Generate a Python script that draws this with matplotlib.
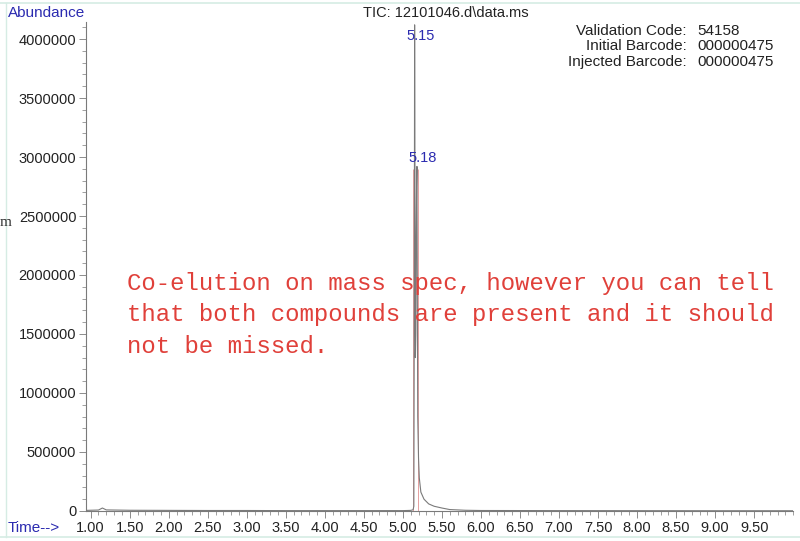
import matplotlib
matplotlib.use("Agg")
import matplotlib.pyplot as plt
from matplotlib.ticker import MultipleLocator, FormatStrFormatter
from matplotlib.lines import Line2D

# -----------------------------
# Chromatogram data (TIC)
# -----------------------------
time_min = [0.94, 1.10, 1.15, 1.20, 1.50, 2.00, 2.50, 3.00, 3.50, 4.00, 4.50,
            5.00, 5.10, 5.13, 5.14, 5.145, 5.15, 5.155, 5.16, 5.165,
            5.17, 5.175, 5.18, 5.185, 5.19, 5.20, 5.21, 5.23, 5.27, 5.33,
            5.40, 5.50, 5.60, 5.80, 6.00, 7.00, 8.00, 9.00, 10.00]
abundance = [5000, 8000, 25000, 9000, 6000, 5000, 4000, 4000, 3000, 3000, 3000,
             3000, 5000, 10000, 40000, 1500000, 4120000, 2600000, 1300000, 1500000,
             2300000, 2750000, 2920000, 1800000, 800000, 450000, 280000, 160000, 100000, 60000,
             40000, 25000, 12000, 6000, 4000, 3000, 2500, 2000, 2000]

# integration markers
marker_times = [5.135, 5.195]
marker_heights = [2900000, 2900000]

peak_times = [5.15, 5.18]
peak_label_y = [3970000, 2930000]
peak_labels = ["5.15", "5.18"]

info_keys = ["Validation Code:", "Initial Barcode:", "Injected Barcode:"]
info_vals = ["54158", "000000475", "000000475"]

note = ("Co-elution on mass spec, however you can tell\n"
        "that both compounds are present and it should\n"
        "not be missed.")

BLUE = "#2b2bb0"
GREY = "#7a7a7a"
DARK = "#222222"

plt.rcParams["font.family"] = ["Liberation Sans", "DejaVu Sans"]

fig = plt.figure(figsize=(8, 5.41), dpi=100)
ax = fig.add_axes([0.1075, 0.0555, 0.884, 0.904])

ax.vlines(marker_times, 0, marker_heights, color="#e6a0a0", linewidth=0.7, zorder=1)
ax.plot(time_min, abundance, color=GREY, linewidth=0.8, zorder=2)

for t, y, lab in zip(peak_times, peak_label_y, peak_labels):
    ax.annotate(lab, (t, y), xytext=(4, 0), textcoords="offset points",
                ha="center", va="bottom", color=BLUE, fontsize=10.5, zorder=3)

ax.set_xlim(0.94, 10.0)
ax.set_ylim(0, 4.145e6)

ax.set_xticks([x / 100 for x in range(100, 1000, 50)])
ax.xaxis.set_minor_locator(MultipleLocator(0.1))
ax.xaxis.set_major_formatter(FormatStrFormatter("%.2f"))
ax.yaxis.set_major_locator(MultipleLocator(500000))
ax.yaxis.set_minor_locator(MultipleLocator(100000))
ax.yaxis.set_major_formatter(FormatStrFormatter("%d"))

ax.tick_params(axis="both", which="major", direction="out", length=5, width=0.6,
               color=GREY, labelsize=10.5, labelcolor=DARK, pad=2)
ax.tick_params(axis="both", which="minor", direction="out", length=3, width=0.5, color=GREY)

for side in ["top", "right"]:
    ax.spines[side].set_visible(False)
for side in ["left", "bottom"]:
    ax.spines[side].set_color(GREY)
    ax.spines[side].set_linewidth(0.8)

# header and axis captions
fig.text(8 / 800, 1 - 13 / 541, "Abundance", color=BLUE, fontsize=11, va="center", ha="left")
fig.text(446 / 800, 1 - 13 / 541, "TIC: 12101046.d\\data.ms", color=DARK,
         fontsize=10.5, va="center", ha="center")
fig.text(8 / 800, 1 - 528 / 541, "Time-->", color=BLUE, fontsize=11, va="center", ha="left")
fig.text(0, 1 - 222 / 541, "m", family="Liberation Serif", fontsize=11,
         va="center", ha="left", color="#333333")

for i, (k, v) in enumerate(zip(info_keys, info_vals)):
    y = 1 - (31 + 15.5 * i) / 541
    fig.text(687 / 800, y, k, ha="right", va="center", fontsize=11, color=DARK)
    fig.text(697 / 800, y, v, ha="left", va="center", fontsize=11, color=DARK)

fig.text(127 / 800, 1 - 272 / 541, note, family="Liberation Mono", fontsize=17.3,
         color="#e0403a", ha="left", va="top", linespacing=1.47)

# page frame lines
frame = "#d6ece4"
fig.add_artist(Line2D([0, 1], [1 - 3 / 541, 1 - 3 / 541], color=frame, linewidth=1.2))
fig.add_artist(Line2D([0, 1], [1 - 537 / 541, 1 - 537 / 541], color=frame, linewidth=1.2))
fig.add_artist(Line2D([6 / 800, 6 / 800], [1 - 537 / 541, 1 - 3 / 541], color=frame, linewidth=1.0))

fig.savefig("out.png", dpi=100, facecolor="white")
